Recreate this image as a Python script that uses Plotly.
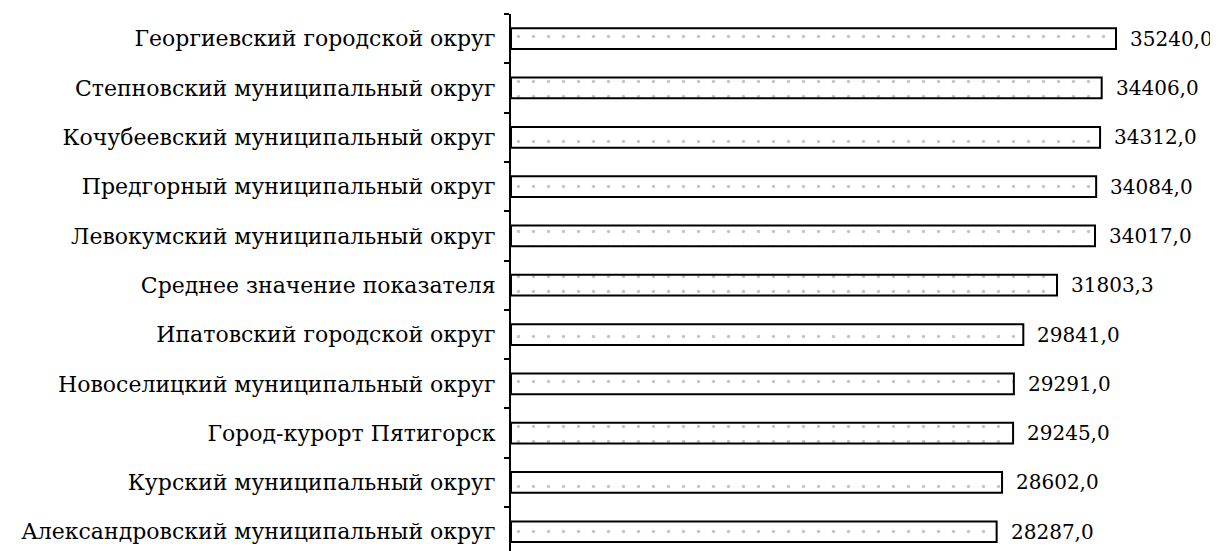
import plotly.graph_objects as go

categories = [
    "Георгиевский городской округ",
    "Степновский муниципальный округ",
    "Кочубеевский муниципальный округ",
    "Предгорный муниципальный округ",
    "Левокумский муниципальный округ",
    "Среднее значение показателя",
    "Ипатовский городской округ",
    "Новоселицкий муниципальный округ",
    "Город-курорт Пятигорск",
    "Курский муниципальный округ",
    "Александровский муниципальный округ",
]
values = [35240.0, 34406.0, 34312.0, 34084.0, 34017.0, 31803.3,
          29841.0, 29291.0, 29245.0, 28602.0, 28287.0]

# plot bottom-to-top so the first category is at the top
cats_r = categories[::-1]
vals_r = values[::-1]
labels_r = [f"{v:.1f}".replace(".", ",") for v in vals_r]

FONT = "DejaVu Serif"

fig = go.Figure()
fig.add_trace(go.Bar(
    x=vals_r, y=cats_r, orientation="h", width=0.42,
    marker=dict(color="white", line=dict(color="black", width=2),
                pattern=dict(shape=".", size=15, solidity=0.04,
                             fgcolor="#8a8a8a", fillmode="overlay")),
    hoverinfo="skip",
))

annotations = [
    dict(x=v, y=c, text=t, xref="x", yref="y", xanchor="left",
         yanchor="middle", xshift=12, showarrow=False,
         font=dict(family=FONT, size=20, color="black"))
    for v, c, t in zip(vals_r, cats_r, labels_r)
]

fig.update_layout(
    width=1210, height=543,
    margin=dict(l=503, r=60, t=6, b=0, autoexpand=False),
    paper_bgcolor="white", plot_bgcolor="white",
    showlegend=False,
    annotations=annotations,
    xaxis=dict(range=[0, 37686], visible=False, showgrid=False, zeroline=False),
    yaxis=dict(
        type="category", categoryorder="array", categoryarray=cats_r,
        range=[-0.39, 10.5],
        showline=True, linecolor="black", linewidth=2,
        ticks="outside", tickson="boundaries", ticklen=5,
        tickcolor="black", tickwidth=1.5,
        showgrid=False, ticklabelstandoff=9,
        tickfont=dict(family=FONT, size=22, color="black"),
    ),
)

fig.write_html("out.html")
